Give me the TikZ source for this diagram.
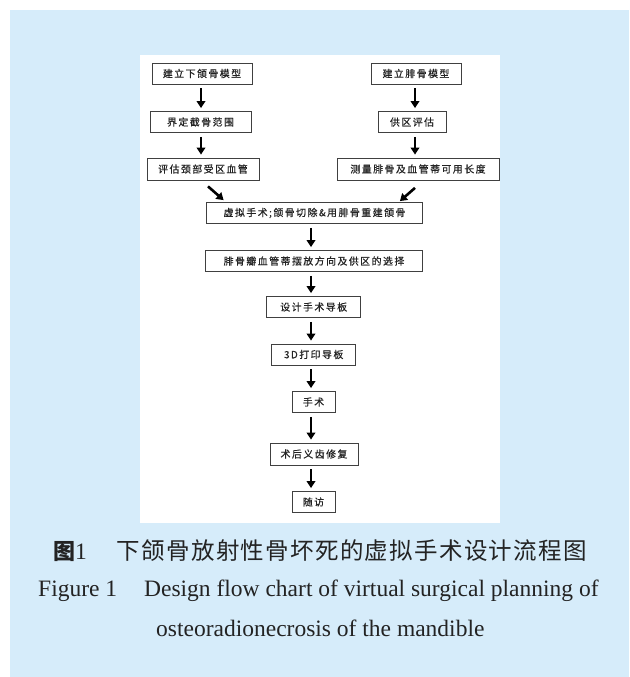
\documentclass[tikz,border=0pt]{standalone}
\usepackage{fontspec}
\usetikzlibrary{arrows.meta}
\setmainfont{Liberation Serif}
\newfontfamily\boxfont[LetterSpace=15,FakeBold=0.6]{Noto Sans CJK SC}
\newfontfamily\capcjk[LetterSpace=5.5]{Noto Sans CJK SC}
\definecolor{capblue}{RGB}{214,236,250}
\definecolor{inktext}{RGB}{35,35,35}

\begin{document}
\begin{tikzpicture}[x=1pt, y=-1pt,
    box/.style={draw=black!75, line width=0.8pt, minimum height=21pt, inner sep=0pt,
        text=inktext, font=\boxfont\fontsize{9.9}{12}\selectfont},
    tip/.style={line width=2.6pt, -{Triangle[width=8.5pt,length=7pt]}},
    flow/.style={tip, shorten <=4pt, shorten >=3pt},
    caption/.style={anchor=base west, inner sep=0pt, text=inktext}]
    % Page and panel
    \useasboundingbox (0,0) rectangle (629,677);
    \fill[capblue] (10,10) rectangle (629,677);
    \fill[white] (140,55) rectangle (500,523);

    % Arrow columns
    \coordinate (lcol) at (201,0);
    \coordinate (rcol) at (415,0);
    \coordinate (mcol) at (311,0);

    % Mandible branch
    \node[box, minimum width=100pt] (jaw) at (202,73.5) {建立下颌骨模型};
    \node[box, minimum width=101pt] (cut) at (200.5,122) {界定截骨范围};
    \node[box, minimum width=112pt, minimum height=22pt] (neck) at (203,169) {评估颈部受区血管};

    % Fibula branch
    \node[box, minimum width=90pt] (fib) at (416,73.5) {建立腓骨模型};
    \node[box, minimum width=68pt] (donor) at (412,122) {供区评估};
    \node[box, minimum width=162pt, minimum height=22pt] (pedicle) at (418,169) {测量腓骨及血管蒂可用长度};

    % Main sequence
    \node[box, minimum width=216pt] (virtual) at (314.5,213) {虚拟手术;颌骨切除\&用腓骨重建颌骨};
    \node[box, minimum width=217pt] (place) at (314,261) {腓骨瓣血管蒂摆放方向及供区的选择};
    \node[box, minimum width=94pt] (guide) at (313.7,307) {设计手术导板};
    \node[box, minimum width=84pt] (print) at (313.7,354.5) {3D打印导板};
    \node[box, minimum width=43pt] (surgery) at (313.5,402) {手术};
    \node[box, minimum width=88pt, minimum height=22pt] (denture) at (314,454) {术后义齿修复};
    \node[box, minimum width=43pt] (follow) at (313.5,502) {随访};

    % Arrows
    \draw[flow] (jaw.south -| lcol) -- (cut.north -| lcol);
    \draw[flow] (cut.south -| lcol) -- (neck.north -| lcol);
    \draw[flow] (fib.south -| rcol) -- (donor.north -| rcol);
    \draw[flow] (donor.south -| rcol) -- (pedicle.north -| rcol);
    \draw[tip] ([shift={(5,6)}]neck.south) -- ([shift={(17.5,-2)}]virtual.north west);
    \draw[tip] ([shift={(-3,7.5)}]pedicle.south) -- ([shift={(-23,-1)}]virtual.north east);
    \draw[flow] (virtual.south -| mcol) -- (place.north -| mcol);
    \draw[flow] (place.south -| mcol) -- (guide.north -| mcol);
    \draw[flow] (guide.south -| mcol) -- (print.north -| mcol);
    \draw[flow] (print.south -| mcol) -- (surgery.north -| mcol);
    \draw[flow] (surgery.south -| mcol) -- (denture.north -| mcol);
    \draw[flow] (denture.south -| mcol) -- (follow.north -| mcol);

    % Caption
    \node[caption] (capcn) at (53,559)
        {{\capcjk\bfseries\fontsize{22}{24}\selectfont 图}{\fontsize{23.5}{26}\selectfont 1}\hspace{30pt}{\capcjk\fontsize{23.5}{26}\selectfont 下颌骨放射性骨坏死的虚拟手术设计流程图}};
    \node[caption, font=\fontsize{23.5}{26}\selectfont] (capen) at (38,596.7)
        {Figure 1\hspace{27pt}Design flow chart of virtual surgical planning of};
    \node[caption, font=\fontsize{23.5}{26}\selectfont] (capen2) at (156,636)
        {osteoradionecrosis of the mandible};
\end{tikzpicture}
\end{document}
